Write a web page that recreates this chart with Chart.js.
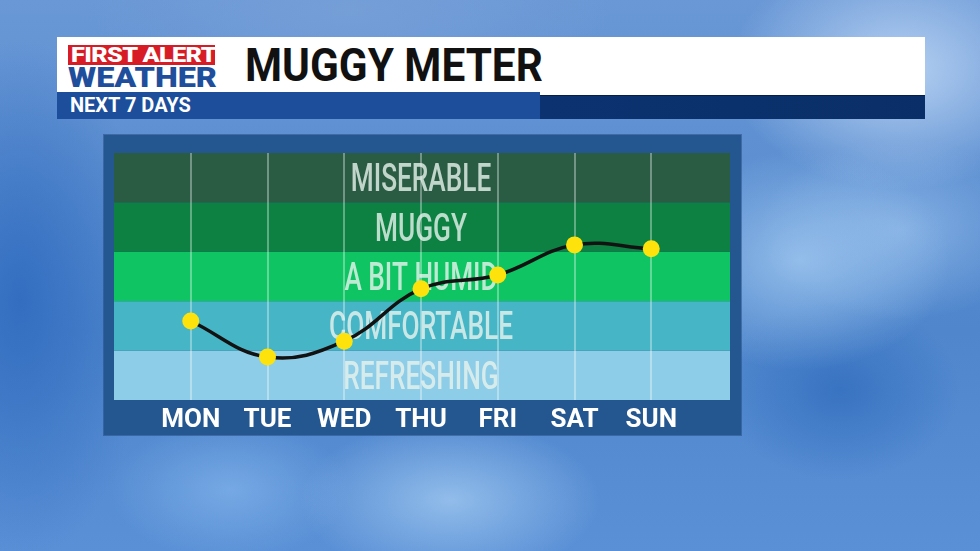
<!DOCTYPE html>
<html>
<head>
<meta charset="utf-8">
<script src="https://cdn.jsdelivr.net/npm/chart.js@4.4.0/dist/chart.umd.min.js"></script>
<style>
  html, body { margin: 0; padding: 0; }
  body {
    width: 980px; height: 551px; overflow: hidden; position: relative;
    font-family: Roboto, "Open Sans", sans-serif;
    background-color: #5a8fd3;
    background-image:
      radial-gradient(ellipse 170px 120px at 900px 70px, rgba(190,215,245,0.9), rgba(190,215,245,0)),
      radial-gradient(ellipse 150px 110px at 800px 260px, rgba(160,200,240,0.8), rgba(160,200,240,0)),
      radial-gradient(ellipse 140px 90px at 900px 230px, rgba(150,190,235,0.7), rgba(150,190,235,0)),
      radial-gradient(ellipse 120px 90px at 840px 390px, rgba(50,110,190,0.8), rgba(50,110,190,0)),
      radial-gradient(ellipse 150px 80px at 450px 500px, rgba(160,200,240,0.8), rgba(160,200,240,0)),
      radial-gradient(ellipse 120px 70px at 230px 490px, rgba(130,180,235,0.7), rgba(130,180,235,0)),
      radial-gradient(ellipse 130px 260px at 20px 300px, rgba(45,105,190,0.85), rgba(45,105,190,0)),
      radial-gradient(ellipse 260px 100px at 350px 10px, rgba(120,160,215,0.8), rgba(120,160,215,0)),
      linear-gradient(180deg, #6a98d6 0%, #4f86cc 60%, #5a90d6 100%);
  }
  .hdr { position: absolute; left: 57px; top: 37px; width: 868px; height: 58px; background: #fff; }
  .strip-l { position: absolute; left: 57px; top: 92px; width: 483px; height: 27px; background: #1c4e9b; }
  .strip-r { position: absolute; left: 540px; top: 95px; width: 385px; height: 24px;
    background: linear-gradient(90deg, #0c3370, #0a2f68); border-top: 1px solid #061f4a; box-sizing: border-box; }
  .red { position: absolute; left: 68px; top: 45px; width: 147px; height: 20px; background: #d71c25; }
  .txt { position: absolute; white-space: nowrap; transform-origin: 0 0; font-weight: 900; }
  .panel { position: absolute; left: 104px; top: 135px; width: 637px; height: 300px;
    background: #24578f; box-shadow: 0 0 0 1px rgba(20,50,100,0.4); }
  .wrap { position: absolute; left: 104px; top: 135px; width: 637px; height: 300px; }
</style>
</head>
<body>
<div class="hdr"></div>
<div class="strip-l"></div>
<div class="strip-r"></div>
<div class="red"></div>
<div class="txt" style="left:71px;top:43px;font-size:21px;color:#fff;transform:scaleX(1.2);letter-spacing:-0.5px;">FIRST ALERT</div>
<div class="txt" style="left:68px;top:62px;font-size:27px;color:#1f4f9c;transform:scaleX(1.2);">WEATHER</div>
<div class="txt" style="left:245px;top:38px;font-size:46px;color:#111;font-weight:700;transform:scaleX(0.92);">MUGGY METER</div>
<div class="txt" style="left:70px;top:93px;font-size:20px;color:#fff;font-weight:700;">NEXT 7 DAYS</div>
<div class="panel"></div>
<div class="wrap"><canvas id="chart"></canvas></div>
<script>
var days = ['MON', 'TUE', 'WED', 'THU', 'FRI', 'SAT', 'SUN'];
var muggy = [1.60, 0.87, 1.19, 2.25, 2.53, 3.14, 3.06];
var bandLabels = ['REFRESHING', 'COMFORTABLE', 'A BIT HUMID', 'MUGGY', 'MISERABLE'];
var bandColors = ['#8ecde7', '#46b6c6', '#0fc463', '#0c8142', '#2a5c44'];

var bandsPlugin = {
  id: 'bands',
  beforeDraw: function (chart) {
    var ctx = chart.ctx;
    var area = chart.chartArea;
    var y = chart.scales.y;
    ctx.save();
    bandColors.forEach(function (color, i) {
      var top = y.getPixelForValue(i + 1);
      var bottom = y.getPixelForValue(i);
      ctx.fillStyle = color;
      ctx.fillRect(area.left, top, area.right - area.left + 2, bottom - top);
    });
    ctx.restore();
  },
  beforeDatasetsDraw: function (chart) {
    var ctx = chart.ctx;
    var x = chart.scales.x;
    var y = chart.scales.y;
    var cx = x.getPixelForValue(3);
    var size = 38;
    ctx.save();
    ctx.font = '500 ' + size + 'px Roboto, sans-serif';
    ctx.textAlign = 'center';
    ctx.textBaseline = 'alphabetic';
    ctx.fillStyle = 'rgba(232,244,238,0.8)';
    bandLabels.forEach(function (label, i) {
      var cy = y.getPixelForValue(i + 0.5);
      ctx.save();
      ctx.translate(cx, cy + size * 0.711 / 2);
      ctx.scale(0.69, 1);
      ctx.fillText(label, 0, 0);
      ctx.restore();
    });
    ctx.restore();
  }
};

function initChart() {
  var el = document.getElementById('chart');
  var ctx = el.getContext ? el.getContext('2d') : null;
  if (!ctx) return;

  var points = muggy.map(function (v, i) {
    return { x: i, y: v };
  });

  // eslint-disable-next-line no-new
  new Chart(ctx, {
    type: 'line',
    data: {
      datasets: [{
        data: points,
        borderColor: '#121212',
        borderWidth: 3.5,
        tension: 0.4,
        pointRadius: 8.5,
        pointBorderWidth: 0,
        pointBackgroundColor: '#fde20b',
        clip: false
      }]
    },
    options: {
      responsive: true,
      maintainAspectRatio: false,
      animation: false,
      layout: { padding: { top: 18, left: 10, right: 13, bottom: 0 } },
      plugins: { legend: { display: false }, tooltip: { enabled: false } },
      scales: {
        x: {
          type: 'linear',
          min: -1,
          max: 7,
          afterFit: function (scale) { scale.height = 35; },
          border: { display: false },
          grid: {
            drawTicks: false,
            lineWidth: 2,
            color: function (c) {
              var v = c.tick ? c.tick.value : -1;
              return v >= 0 && v < days.length ? 'rgba(255,255,255,0.35)' : 'rgba(0,0,0,0)';
            }
          },
          ticks: {
            stepSize: 1,
            autoSkip: false,
            maxRotation: 0,
            padding: 5,
            color: '#ffffff',
            font: { family: 'Roboto', size: 26, weight: 'bold' },
            callback: function (v) { return days[v] || ''; }
          }
        },
        y: {
          display: false,
          min: 0,
          max: bandLabels.length
        }
      }
    },
    plugins: [bandsPlugin]
  });
}

if (document.readyState === 'loading') {
  document.addEventListener('DOMContentLoaded', initChart);
} else {
  initChart();
}
</script>
</body>
</html>
